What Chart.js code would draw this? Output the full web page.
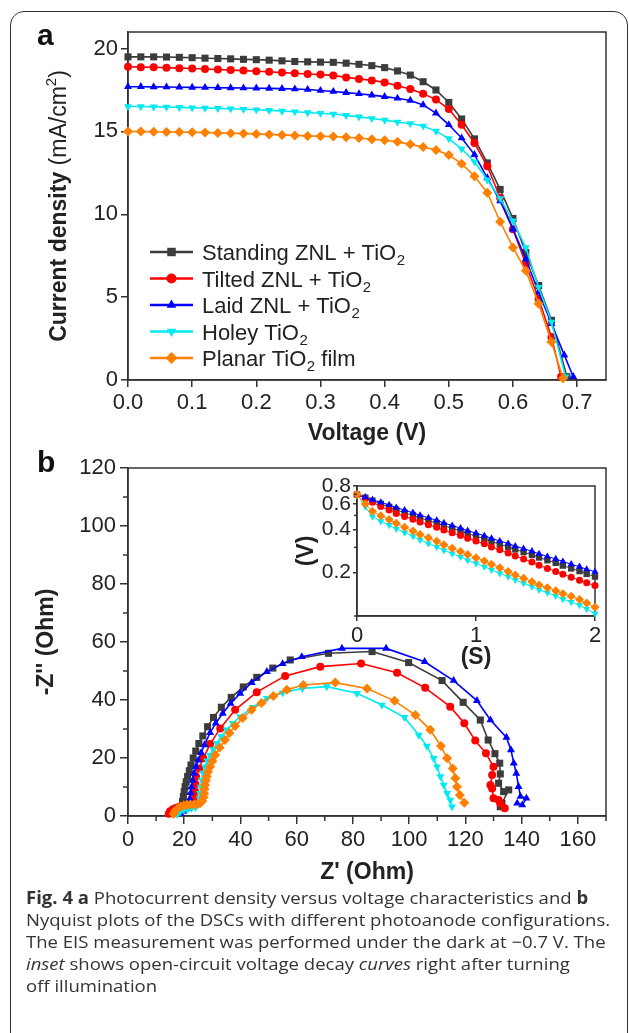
<!DOCTYPE html>
<html>
<head>
<meta charset="utf-8">
<script src="https://cdn.jsdelivr.net/npm/chart.js@4.4.1/dist/chart.umd.min.js"></script>
<style>
  html, body { margin: 0; padding: 0; background: #fff; }
  #pagina { position: relative; width: 629px; height: 1033px; overflow: hidden; }
  #moldura { position: absolute; left: 10px; top: 11px; width: 616px; height: 1100px; border: 1.5px solid #333; border-radius: 14px; }
  canvas { position: absolute; left: 0; top: 0; }
  #legenda { position: absolute; left: 26px; top: 887px; font-family: 'Open Sans', sans-serif; font-size: 17px; line-height: 22px;
    color: #333; white-space: nowrap; transform: scaleX(1.09); transform-origin: 0 0; }
</style>
</head>
<body>
<div id="pagina">
  <div id="moldura"></div>
  <canvas id="graficoA" width="629" height="1033"></canvas>
  <canvas id="graficoB" width="629" height="1033"></canvas>
  <canvas id="graficoInset" width="629" height="1033"></canvas>
  <div id="legenda">
    <b>Fig. 4 a</b> Photocurrent density versus voltage characteristics and <b>b</b><br>
    Nyquist plots of the DSCs with different photoanode configurations.<br>
    The EIS measurement was performed under the dark at −0.7 V. The<br>
    <i>inset</i> shows open-circuit voltage decay <i>curves</i> right after turning<br>
    off illumination
  </div>
</div>
<script>
// ---- dados do painel a (J-V) ----
const nomes = ['Standing ZNL + TiO₂', 'Tilted ZNL + TiO₂', 'Laid ZNL + TiO₂', 'Holey TiO₂', 'Planar TiO₂ film'];
const cores = ['#3c3c3c', '#ff0000', '#0000ff', '#00eaf0', '#ff8000'];

const voltagem = [0, 0.02, 0.04, 0.06, 0.08, 0.10, 0.12, 0.14, 0.16, 0.18, 0.20, 0.22, 0.24, 0.26, 0.28, 0.30, 0.32, 0.34,
  0.36, 0.38, 0.40, 0.42, 0.44, 0.46, 0.48, 0.50, 0.52, 0.54, 0.56, 0.58, 0.60, 0.62, 0.64, 0.66, 0.68];
const jStanding = [19.5, 19.5, 19.5, 19.49, 19.47, 19.45, 19.42, 19.4, 19.38, 19.35, 19.33, 19.3, 19.26, 19.22, 19.2, 19.18, 19.17, 19.12,
  19.05, 18.97, 18.85, 18.65, 18.4, 18.0, 17.5, 16.75, 15.75, 14.55, 13.1, 11.5, 9.75, 7.7, 5.7, 3.6, null];
const jTilted = [18.9, 18.88, 18.87, 18.85, 18.82, 18.8, 18.77, 18.74, 18.7, 18.67, 18.63, 18.6, 18.55, 18.51, 18.47, 18.43, 18.38, 18.26,
  18.17, 18.08, 17.96, 17.76, 17.56, 17.28, 16.92, 16.35, 15.4, 14.3, 12.9, 11.0, 9.1, 7.0, 4.9, 2.6, null];
const jLaid = [17.7, 17.7, 17.69, 17.68, 17.67, 17.66, 17.65, 17.64, 17.63, 17.62, 17.61, 17.6, 17.58, 17.56, 17.53, 17.47, 17.41, 17.34,
  17.27, 17.19, 17.1, 17.0, 16.87, 16.6, 16.1, 15.4, 14.6, 13.6, 12.2, 10.8, 9.1, 7.3, 5.3, 3.4, 1.5];
const jHoley = [16.5, 16.5, 16.48, 16.47, 16.45, 16.43, 16.41, 16.39, 16.37, 16.34, 16.31, 16.27, 16.23, 16.19, 16.14, 16.1, 16.05, 15.97,
  15.88, 15.78, 15.68, 15.57, 15.48, 15.33, 15.02, 14.57, 13.95, 13.17, 12.08, 10.95, 9.6, 8.0, 5.6, 3.5, null];
const jPlanar = [15.0, 14.99, 14.98, 14.97, 14.96, 14.95, 14.93, 14.91, 14.89, 14.87, 14.85, 14.82, 14.79, 14.76, 14.73, 14.71, 14.69, 14.65,
  14.6, 14.53, 14.47, 14.37, 14.22, 14.06, 13.88, 13.58, 13.05, 12.3, 11.3, 9.55, 8.0, 6.6, 4.6, 2.3, null];
// ultimo ponto de cada curva (Voc, J)
const pontoFinal = [[0.684, 0.2], [0.675, 0.2], [0.694, 0.2], [0.682, 0.2], [0.678, 0.1]];
const ticksVoltagem = [0, 0.1, 0.2, 0.3, 0.4, 0.5, 0.6, 0.7];
const ticksCorrente = [0, 5, 10, 15, 20];

// ---- dados do painel b (Nyquist), pares [Z', -Z''] ----
const nyqStanding = [[16.0, 1.0], [16.8, 1.8], [17.6, 2.4], [18.4, 2.8], [19.1, 3.2], [19.4, 5.0], [19.7, 6.7], [20.0, 8.4], [20.3, 10.1],
  [20.7, 11.8], [21.2, 13.6], [21.8, 15.6], [22.4, 17.6], [23.2, 20.0], [24.1, 22.4], [25.2, 25.0], [26.6, 27.6], [28.3, 30.8], [30.4, 34.0],
  [33.2, 37.5], [36.7, 40.9], [41.0, 44.5], [45.8, 47.8], [51.5, 51.0], [57.7, 53.8], [71.3, 56.1], [86.8, 56.7], [99.8, 52.9], [111.7, 46.7],
  [119.2, 39.2], [125.3, 33.1], [128.1, 26.2], [130.5, 21.5], [132.2, 18.2], [132.4, 14.5], [131.8, 11.3], [133.6, 8.4], [135.4, 9.0],
  [133.0, 4.4], [132.4, 3.2]];
const nyqTilted = [[14.5, 0.8], [15.0, 1.6], [16.0, 2.3], [17.0, 2.8], [18.2, 3.2], [19.5, 3.5], [20.8, 3.6], [22.0, 3.8], [23.0, 4.5],
  [23.5, 6.5], [23.8, 8.5], [24.0, 11.0], [24.2, 13.6], [25.3, 16.4], [26.8, 19.9], [29.2, 24.8], [32.8, 30.2], [38.1, 36.6], [45.8, 42.7],
  [55.9, 48.3], [68.4, 51.5], [82.9, 52.6], [95.7, 49.4], [105.7, 44.2], [114.6, 37.7], [119.6, 32.0], [123.5, 26.0], [127.3, 21.6],
  [130.0, 17.0], [129.5, 14.1], [128.9, 10.7], [129.5, 9.5], [130.0, 6.1], [131.8, 5.5], [132.4, 4.4], [134.0, 2.7]];
const nyqLaid = [[18.8, 0.9], [19.6, 1.6], [20.4, 2.2], [21.1, 2.6], [21.6, 3.2], [21.8, 4.5], [22.0, 6.0], [22.3, 8.0], [22.6, 10.0],
  [23.0, 12.3], [23.5, 14.7], [24.2, 17.0], [25.0, 19.2], [26.0, 21.8], [27.2, 24.5], [29.2, 28.7], [31.2, 32.0], [33.7, 35.4], [36.5, 38.8],
  [39.9, 42.3], [44.0, 46.0], [49.4, 49.8], [55.0, 52.5], [61.8, 54.9], [76.1, 57.8], [91.8, 57.8], [105.5, 53.2], [115.8, 46.7],
  [124.1, 39.8], [128.9, 33.1], [134.6, 27.1], [136.2, 22.8], [137.2, 18.2], [138.1, 14.7], [138.9, 10.1], [139.6, 6.7], [141.7, 6.1],
  [140.2, 3.8], [138.4, 4.4]];
const nyqHoley = [[17.5, 0.6], [18.5, 1.4], [19.8, 2.0], [21.2, 2.4], [22.6, 2.7], [24.0, 3.0], [25.0, 4.0], [25.5, 6.0], [25.6, 7.8],
  [25.9, 10.0], [26.2, 12.4], [26.7, 14.8], [27.4, 17.0], [28.2, 19.0], [29.2, 21.0], [30.3, 23.0], [31.6, 25.1], [33.2, 27.4], [35.1, 29.7],
  [37.3, 32.0], [39.9, 34.2], [44.3, 37.5], [49.4, 40.6], [55.0, 42.5], [62.0, 44.0], [70.7, 44.6], [81.4, 42.3], [90.3, 38.3], [98.3, 34.0],
  [103.4, 27.9], [106.3, 24.1], [108.7, 19.9], [109.9, 17.0], [111.1, 13.6], [112.3, 10.7], [113.5, 7.8], [114.6, 5.5], [115.2, 3.2]];
const nyqPlanar = [[16.2, 0.8], [16.8, 1.8], [17.6, 2.6], [18.6, 3.2], [19.8, 3.6], [21.0, 3.9], [22.2, 4.0], [23.4, 4.0], [24.6, 4.1],
  [25.6, 4.4], [26.4, 5.2], [26.9, 6.5], [27.1, 7.8], [27.2, 9.2], [27.4, 10.7], [27.7, 12.2], [28.0, 13.6], [28.5, 15.3], [29.2, 17.0],
  [30.0, 19.0], [31.0, 21.0], [32.6, 23.6], [34.5, 26.2], [36.1, 28.6], [38.1, 31.0], [40.8, 33.8], [44.0, 36.6], [47.5, 39.0], [51.7, 41.4],
  [56.5, 43.5], [62.4, 45.2], [73.7, 46.0], [85.0, 44.0], [94.8, 39.7], [102.2, 34.8], [107.5, 29.7], [111.3, 24.1], [113.5, 19.9],
  [115.5, 16.4], [116.4, 13.0], [117.0, 10.1], [118.0, 7.2], [119.6, 4.6]];
const ticksZre = [0, 20, 40, 60, 80, 100, 120, 140, 160];
const menoresZre = [10, 30, 50, 70, 90, 110, 130, 150, 170];
const ticksZim = [0, 20, 40, 60, 80, 100, 120];
const menoresZim = [10, 30, 50, 70, 90, 110];

// ---- dados do inset (decaimento de Voc) ----
const tempo = [0, 0.07, 0.13, 0.2, 0.27, 0.33, 0.4, 0.47, 0.53, 0.6, 0.67, 0.73, 0.8, 0.87, 0.93, 1.0,
  1.07, 1.13, 1.2, 1.27, 1.33, 1.4, 1.47, 1.53, 1.6, 1.67, 1.73, 1.8, 1.87, 1.93, 2.0];
const vocStanding = [0.697, 0.664, 0.632, 0.601, 0.573, 0.546, 0.522, 0.500, 0.480, 0.461, 0.442, 0.424, 0.406, 0.390, 0.374, 0.358,
  0.344, 0.329, 0.315, 0.302, 0.290, 0.278, 0.266, 0.255, 0.244, 0.234, 0.224, 0.214, 0.205, 0.196, 0.188];
const vocTilted = [0.697, 0.655, 0.616, 0.576, 0.544, 0.516, 0.492, 0.470, 0.450, 0.431, 0.413, 0.395, 0.378, 0.362, 0.347, 0.332,
  0.317, 0.302, 0.288, 0.274, 0.261, 0.249, 0.237, 0.225, 0.214, 0.204, 0.195, 0.186, 0.177, 0.170, 0.163];
const vocLaid = [0.697, 0.669, 0.642, 0.616, 0.591, 0.567, 0.544, 0.522, 0.501, 0.481, 0.462, 0.443, 0.425, 0.408, 0.392, 0.376,
  0.361, 0.346, 0.332, 0.319, 0.306, 0.294, 0.282, 0.270, 0.259, 0.249, 0.239, 0.229, 0.220, 0.211, 0.203];
const vocHoley = [0.697, 0.575, 0.490, 0.455, 0.428, 0.403, 0.380, 0.358, 0.338, 0.319, 0.302, 0.286, 0.271, 0.257, 0.244, 0.232,
  0.220, 0.209, 0.198, 0.188, 0.178, 0.169, 0.160, 0.152, 0.145, 0.138, 0.131, 0.125, 0.119, 0.112, 0.104];
const vocPlanar = [0.697, 0.600, 0.535, 0.497, 0.468, 0.440, 0.413, 0.390, 0.368, 0.349, 0.330, 0.312, 0.296, 0.281, 0.267, 0.254,
  0.241, 0.229, 0.216, 0.204, 0.193, 0.183, 0.173, 0.164, 0.157, 0.150, 0.143, 0.137, 0.130, 0.123, 0.115];
const ticksTempo = [0, 1, 2];
const ticksVoc = [0.2, 0.4, 0.6, 0.8];
const menoresVoc = [0.1, 0.3, 0.5, 0.7];

const estilos = [['rect', 0, 5], ['circle', 0, 4], ['triangle', 0, 4.6], ['triangle', 180, 4.6], ['rectRot', 0, 5]];
const corEixo = '#333';
const corTexto = '#222';
const fonte = "Arial, 'Liberation Sans', sans-serif";
const tamTick = 22;
const tamTitulo = 23;

Chart.defaults.font.family = fonte;
Chart.defaults.color = corTexto;

function serie(i, pontos, raioExtra) {
  return {
    label: nomes[i],
    data: pontos,
    borderColor: cores[i],
    backgroundColor: cores[i],
    pointStyle: estilos[i][0],
    pointRotation: estilos[i][1],
    pointRadius: estilos[i][2] + (raioExtra || 0),
    pointBorderWidth: 0,
    borderWidth: 1.6,
    showLine: true,
    tension: 0,
    clip: false,
    order: 4 - i // a primeira serie fica por baixo
  };
}

function eixo(lista, extra) {
  return Object.assign({
    type: 'linear',
    afterBuildTicks: s => { s.ticks = lista.map(v => ({ value: v })); },
    border: { color: corEixo, width: 1.5 }
  }, extra);
}

function marcas(tam) {
  return { drawOnChartArea: false, drawTicks: true, color: corEixo, lineWidth: 1.5, tickLength: tam };
}

function titulo(texto, pad) {
  return { display: true, text: texto, font: { size: tamTitulo, weight: 'bold' }, color: corTexto, padding: pad };
}

// moldura superior/direita
const caixa = {
  id: 'caixa',
  beforeDatasetsDraw(chart) {
    const a = chart.chartArea, ctx = chart.ctx;
    ctx.save();
    ctx.strokeStyle = corEixo;
    ctx.lineWidth = 1.5;
    ctx.strokeRect(a.left, a.top, a.right - a.left, a.bottom - a.top);
    ctx.restore();
  }
};

// marcas menores dos eixos
const marcasMenores = {
  id: 'marcasMenores',
  afterDraw(chart, args, opts) {
    const { ctx, scales: { x, y } } = chart;
    ctx.save();
    ctx.strokeStyle = corEixo;
    ctx.lineWidth = 1.5;
    (opts.x || []).forEach(v => {
      const px = x.getPixelForValue(v);
      ctx.beginPath(); ctx.moveTo(px, y.bottom); ctx.lineTo(px, y.bottom + opts.tam); ctx.stroke();
    });
    (opts.y || []).forEach(v => {
      const py = y.getPixelForValue(v);
      ctx.beginPath(); ctx.moveTo(x.left, py); ctx.lineTo(x.left - opts.tam, py); ctx.stroke();
    });
    ctx.restore();
  }
};

// texto com subscrito "₂"
function textoComIndice(ctx, txt, x, y, tam, peso) {
  const partes = txt.split('₂');
  partes.forEach((p, k) => {
    ctx.font = peso + ' ' + tam + 'px ' + fonte;
    ctx.fillText(p, x, y);
    x += ctx.measureText(p).width;
    if (k < partes.length - 1) {
      ctx.font = peso + ' ' + Math.round(tam * 0.66) + 'px ' + fonte;
      ctx.fillText('2', x + 0.5, y + 5);
      x += ctx.measureText('2').width + 0.5;
    }
  });
}

// legenda dentro do painel a + rotulos
const legendaA = {
  id: 'legendaA',
  afterDraw(chart) {
    const ctx = chart.ctx;
    ctx.save();
    chart.data.datasets.forEach((ds, i) => {
      const y = 252 + i * 26.5;
      ctx.strokeStyle = ds.borderColor;
      ctx.lineWidth = 2.6;
      ctx.beginPath(); ctx.moveTo(150, y); ctx.lineTo(193, y); ctx.stroke();
      ctx.fillStyle = ds.borderColor;
      Chart.helpers.drawPoint(ctx, { pointStyle: ds.pointStyle, rotation: ds.pointRotation, radius: ds.pointRadius + 1, borderWidth: 0 }, 171.5, y);
      ctx.fillStyle = corTexto;
      ctx.textBaseline = 'alphabetic';
      textoComIndice(ctx, ds.label, 202, y + 8, 22, 'normal');
    });

    // letra do painel
    ctx.fillStyle = '#111';
    ctx.font = 'bold 30px ' + fonte;
    ctx.fillText('a', 37, 45);

    // titulo do eixo y (parte em negrito, parte normal)
    ctx.translate(60, 206);
    ctx.rotate(-Math.PI / 2);
    const p1 = 'Current density ', p2 = '(mA/cm', p3 = '2', p4 = ')';
    ctx.font = 'bold 23px ' + fonte; const w1 = ctx.measureText(p1).width;
    ctx.font = '23px ' + fonte; const w2 = ctx.measureText(p2).width; const w4 = ctx.measureText(p4).width;
    ctx.font = '15px ' + fonte; const w3 = ctx.measureText(p3).width;
    let x0 = -(w1 + w2 + w3 + w4) / 2;
    ctx.textBaseline = 'middle';
    ctx.fillStyle = corTexto;
    ctx.font = 'bold 23px ' + fonte; ctx.fillText(p1, x0, 0); x0 += w1;
    ctx.font = '23px ' + fonte; ctx.fillText(p2, x0, 0); x0 += w2;
    ctx.font = '15px ' + fonte; ctx.fillText(p3, x0, -8); x0 += w3;
    ctx.font = '23px ' + fonte; ctx.fillText(p4, x0, 0);
    ctx.restore();
  }
};

const letraB = {
  id: 'letraB',
  afterDraw(chart) {
    const ctx = chart.ctx;
    ctx.save();
    ctx.fillStyle = '#111';
    ctx.font = 'bold 30px ' + fonte;
    ctx.fillText('b', 37, 472);
    ctx.restore();
  }
};

const semLegenda = { legend: { display: false }, tooltip: { enabled: false } };

// ---- painel a ----
const correntes = [jStanding, jTilted, jLaid, jHoley, jPlanar];
const dadosA = correntes.map((j, i) => {
  const pts = [];
  voltagem.forEach((v, k) => { if (j[k] !== null) pts.push({ x: v, y: j[k] }); });
  pts.push({ x: pontoFinal[i][0], y: pontoFinal[i][1] });
  return serie(i, pts);
});

new Chart(document.getElementById('graficoA'), {
  type: 'scatter',
  data: { datasets: dadosA },
  options: {
    responsive: false,
    animation: false,
    devicePixelRatio: 1,
    layout: { padding: { left: 0, top: 32, right: 23, bottom: 583 } },
    plugins: Object.assign({ marcasMenores: { tam: 4 } }, semLegenda),
    scales: {
      x: eixo(ticksVoltagem, {
        min: 0, max: 0.745,
        afterFit: s => { s.height = 70; },
        ticks: { font: { size: tamTick }, color: corTexto, padding: 3, maxRotation: 0, autoSkip: false, callback: v => v.toFixed(1) },
        grid: marcas(7),
        title: titulo('Voltage (V)', { top: 0, bottom: 3 })
      }),
      y: eixo(ticksCorrente, {
        min: 0, max: 21,
        afterFit: s => { s.width = 128; },
        ticks: { font: { size: tamTick }, color: corTexto, padding: 3 },
        grid: marcas(7)
      })
    }
  },
  plugins: [caixa, marcasMenores, legendaA]
});

// ---- painel b ----
const nyquist = [nyqStanding, nyqTilted, nyqLaid, nyqHoley, nyqPlanar];
new Chart(document.getElementById('graficoB'), {
  type: 'scatter',
  data: { datasets: nyquist.map((pares, i) => serie(i, pares.map(p => ({ x: p[0], y: p[1] })))) },
  options: {
    responsive: false,
    animation: false,
    devicePixelRatio: 1,
    layout: { padding: { left: 0, top: 468, right: 23, bottom: 147 } },
    plugins: Object.assign({ marcasMenores: { x: menoresZre, y: menoresZim, tam: 5 } }, semLegenda),
    scales: {
      x: eixo(ticksZre, {
        min: 0, max: 170,
        afterFit: s => { s.height = 70; },
        ticks: { font: { size: tamTick }, color: corTexto, padding: 3, maxRotation: 0, autoSkip: false },
        grid: marcas(8),
        title: titulo("Z' (Ohm)", { top: 0, bottom: 0 })
      }),
      y: eixo(ticksZim, {
        min: 0, max: 120,
        afterFit: s => { s.width = 128; },
        ticks: { font: { size: tamTick }, color: corTexto, padding: 4 },
        grid: marcas(8),
        title: titulo("-Z'' (Ohm)", { top: 33, bottom: 0 })
      })
    }
  },
  plugins: [caixa, marcasMenores, letraB]
});

// ---- inset ----
const decaimentos = [vocStanding, vocTilted, vocLaid, vocHoley, vocPlanar];
new Chart(document.getElementById('graficoInset'), {
  type: 'scatter',
  data: { datasets: decaimentos.map((v, i) => Object.assign(serie(i, tempo.map((t, k) => ({ x: t, y: v[k] })), -0.5), { borderWidth: 1 })) },
  options: {
    responsive: false,
    animation: false,
    devicePixelRatio: 1,
    layout: { padding: { left: 280, top: 486, right: 34, bottom: 362 } },
    plugins: Object.assign({ marcasMenores: { y: menoresVoc, tam: 3 } }, semLegenda),
    scales: {
      x: eixo(ticksTempo, {
        min: 0, max: 2,
        afterFit: s => { s.height = 55; },
        ticks: { font: { size: tamTick }, color: corTexto, padding: 2, maxRotation: 0, autoSkip: false },
        grid: marcas(5),
        title: titulo('(S)', { top: 0, bottom: 0 })
      }),
      y: eixo(ticksVoc, {
        type: 'logarithmic',
        min: 0.1, max: 0.8,
        afterFit: s => { s.width = 77; },
        ticks: { font: { size: 21 }, color: corTexto, padding: 2, autoSkip: false, callback: v => Number(v).toFixed(1) },
        grid: marcas(4),
        title: titulo('(V)', { top: 13, bottom: 0 })
      })
    }
  },
  plugins: [caixa, marcasMenores]
});
</script>
</body>
</html>
